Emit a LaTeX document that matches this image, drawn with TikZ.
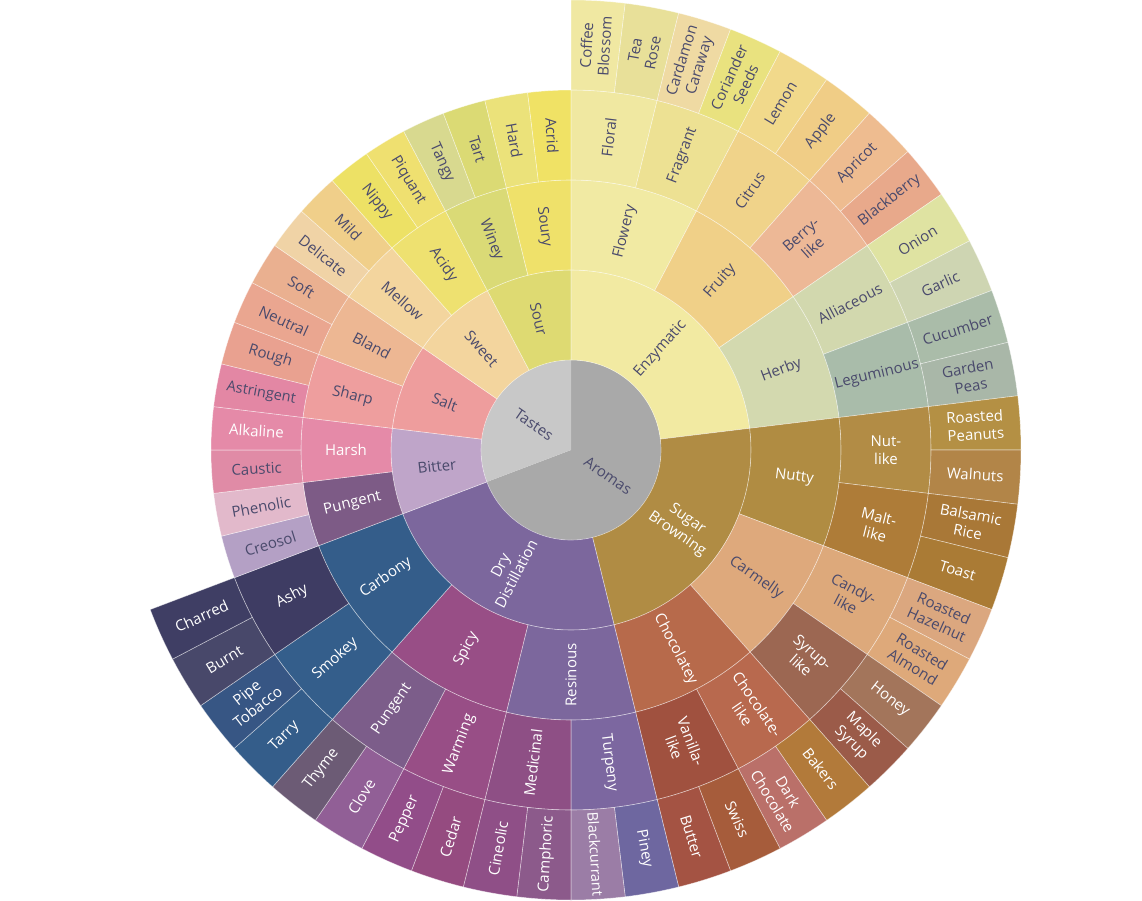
\documentclass[tikz,border=0pt]{standalone}
\usepackage{fontspec}
\setmainfont{Open Sans}
\usetikzlibrary{calc}
\definecolor{labeldark}{HTML}{4A4A6C}
\newcounter{segno}
\newcommand\leafw{6.923077}
% one sector of the wheel: first leaf, leaves, ring, fill, label style, label
\newcommand\seg[6]{%
  \pgfmathsetmacro\aA{90-#1*\leafw}%
  \pgfmathsetmacro\aB{90-(#1+#2)*\leafw}%
  \pgfmathsetmacro\rA{90*#3}%
  \pgfmathsetmacro\rB{90*(#3+1)}%
  \pgfmathsetmacro\aM{(\aA+\aB)/2}%
  \pgfmathsetmacro\rM{(\rA+\rB)/2}%
  \pgfmathsetmacro\rot{\aM<-89.99 ? \aM+180 : \aM}%
  \definecolor{segfill}{HTML}{#4}%
  \stepcounter{segno}%
  \fill[segfill, segline] (\aA:\rA) arc[start angle=\aA, end angle=\aB, radius=\rA]
    -- (\aB:\rB) arc[start angle=\aB, end angle=\aA, radius=\rB] -- cycle;
  \node[lbl, #5, rotate=\rot] (seg-\arabic{segno}) at (\aM:\rM) {#6};
}
% the two halves of the hub
\newcommand\hub[5]{%
  \pgfmathsetmacro\aA{90-#1*\leafw}%
  \pgfmathsetmacro\aB{90-(#1+#2)*\leafw}%
  \pgfmathsetmacro\aM{(\aA+\aB)/2}%
  \pgfmathsetmacro\rot{\aM<-89.99 ? \aM+180 : \aM}%
  \definecolor{segfill}{HTML}{#3}%
  \stepcounter{segno}%
  \fill[segfill] (0,0) -- (\aA:90) arc[start angle=\aA, end angle=\aB, radius=90] -- cycle;
  \node[lbl, #4, rotate=\rot] (seg-\arabic{segno}) at (\aM:45) {#5};
}

\begin{document}
\begin{tikzpicture}[
    x=1pt, y=1pt,
    lbl/.style={font=\fontsize{15}{18}\selectfont, align=center, inner sep=0pt},
    dk/.style={text=labeldark},
    lt/.style={text=white},
    sm/.style={font=\fontsize{14.5}{17}\selectfont},
    segline/.style={draw=white, draw opacity=0.5, line width=0.6pt}
]
  \useasboundingbox (-571,-450) rectangle (571,450);

  % hub
  \hub{0}{36}{A9A9A9}{dk}{Aromas}
  \hub{36}{16}{C8C8C8}{dk}{Tastes}

  % ring 1
  \seg{0}{12}{1}{F2EAA2}{dk}{Enzymatic}
  \seg{12}{12}{1}{B08C44}{lt}{Sugar\\Browning}
  \seg{24}{12}{1}{7C679D}{lt}{Dry\\Distillation}
  \seg{36}{4}{1}{BFA5C9}{dk}{Bitter}
  \seg{40}{4}{1}{EE9D9D}{dk}{Salt}
  \seg{44}{4}{1}{F3D59E}{dk}{Sweet}
  \seg{48}{4}{1}{DEDA72}{dk}{Sour}

  % ring 2
  \seg{0}{4}{2}{F1EAA3}{dk}{Flowery}
  \seg{4}{4}{2}{F0D088}{dk}{Fruity}
  \seg{8}{4}{2}{D3D9AF}{dk}{Herby}
  \seg{12}{4}{2}{B08C42}{lt}{Nutty}
  \seg{16}{4}{2}{DEA97C}{dk}{Carmelly}
  \seg{20}{4}{2}{B76A4B}{lt}{Chocolatey}
  \seg{24}{4}{2}{7C679D}{lt}{Resinous}
  \seg{28}{4}{2}{984E86}{lt}{Spicy}
  \seg{32}{4}{2}{345D8A}{lt}{Carbony}
  \seg{36}{2}{2}{7D5B86}{lt}{Pungent}
  \seg{38}{2}{2}{E58AA8}{lt}{Harsh}
  \seg{40}{2}{2}{EE9E9E}{dk}{Sharp}
  \seg{42}{2}{2}{EDB793}{dk}{Bland}
  \seg{44}{2}{2}{F3D59E}{dk}{Mellow}
  \seg{46}{2}{2}{EEE170}{dk}{Acidy}
  \seg{48}{2}{2}{DADA76}{dk}{Winey}
  \seg{50}{2}{2}{EFE16A}{dk}{Soury}

  % ring 3
  \seg{0}{2}{3}{F0E8A1}{dk}{Floral}
  \seg{2}{2}{3}{EDE193}{dk}{Fragrant}
  \seg{4}{2}{3}{F0D38A}{dk}{Citrus}
  \seg{6}{2}{3}{EDB896}{dk}{Berry-\\like}
  \seg{8}{2}{3}{D2D8AE}{dk}{Alliaceous}
  \seg{10}{2}{3}{A9BCAA}{dk}{Leguminous}
  \seg{12}{2}{3}{B28C45}{lt}{Nut-\\like}
  \seg{14}{2}{3}{AE7C38}{lt}{Malt-\\like}
  \seg{16}{2}{3}{DDA97B}{dk}{Candy-\\like}
  \seg{18}{2}{3}{9C6752}{lt}{Syrup-\\like}
  \seg{20}{2}{3}{B8694E}{lt}{Chocolate-\\like}
  \seg{22}{2}{3}{A0513F}{lt}{Vanilla-\\like}
  \seg{24}{2}{3}{7C67A0}{lt}{Turpeny}
  \seg{26}{2}{3}{8E4F85}{lt}{Medicinal}
  \seg{28}{2}{3}{984E86}{lt}{Warming}
  \seg{30}{2}{3}{7C5D8A}{lt}{Pungent}
  \seg{32}{2}{3}{345E8B}{lt}{Smokey}
  \seg{34}{2}{3}{3E3C63}{lt}{Ashy}
  \seg{36}{1}{3}{B4A0C5}{dk}{Creosol}
  \seg{37}{1}{3}{E2B9CB}{dk}{Phenolic}
  \seg{38}{1}{3}{E08BA6}{dk}{Caustic}
  \seg{39}{1}{3}{E58AA8}{lt}{Alkaline}
  \seg{40}{1}{3}{E387A4}{dk,sm}{Astringent}
  \seg{41}{1}{3}{E9A190}{dk}{Rough}
  \seg{42}{1}{3}{EAA690}{dk}{Neutral}
  \seg{43}{1}{3}{EAB090}{dk}{Soft}
  \seg{44}{1}{3}{F0D3A6}{dk}{Delicate}
  \seg{45}{1}{3}{F0CF8A}{dk}{Mild}
  \seg{46}{1}{3}{EDE165}{dk}{Nippy}
  \seg{47}{1}{3}{EFE070}{dk}{Piquant}
  \seg{48}{1}{3}{D8D98F}{dk}{Tangy}
  \seg{49}{1}{3}{DBDA74}{dk}{Tart}
  \seg{50}{1}{3}{EBE27A}{dk}{Hard}
  \seg{51}{1}{3}{F0E265}{dk}{Acrid}

  % ring 4
  \seg{0}{1}{4}{F0E8A2}{dk}{Coffee\\Blossom}
  \seg{1}{1}{4}{E8E099}{dk}{Tea\\Rose}
  \seg{2}{1}{4}{EFDAA3}{dk}{Cardamon\\Caraway}
  \seg{3}{1}{4}{E9E27F}{dk}{Coriander\\Seeds}
  \seg{4}{1}{4}{F1D98B}{dk}{Lemon}
  \seg{5}{1}{4}{F0CD86}{dk}{Apple}
  \seg{6}{1}{4}{EEBC90}{dk}{Apricot}
  \seg{7}{1}{4}{E8A98B}{dk}{Blackberry}
  \seg{8}{1}{4}{DFE3A2}{dk}{Onion}
  \seg{9}{1}{4}{CED5B2}{dk}{Garlic}
  \seg{10}{1}{4}{AABCA9}{dk}{Cucumber}
  \seg{11}{1}{4}{A9B7A8}{dk}{Garden\\Peas}
  \seg{12}{1}{4}{B49044}{lt}{Roasted\\Peanuts}
  \seg{13}{1}{4}{B28548}{lt}{Walnuts}
  \seg{14}{1}{4}{A97837}{lt}{Balsamic\\Rice}
  \seg{15}{1}{4}{AA7B35}{lt}{Toast}
  \seg{16}{1}{4}{DBA77F}{dk}{Roasted\\Hazelnut}
  \seg{17}{1}{4}{DEA97A}{dk}{Roasted\\Almond}
  \seg{18}{1}{4}{A3755B}{lt}{Honey}
  \seg{19}{1}{4}{9B5B49}{lt}{Maple\\Syrup}
  \seg{20}{1}{4}{B27A3A}{lt}{Bakers}
  \seg{21}{1}{4}{BA7069}{lt}{Dark\\Chocolate}
  \seg{22}{1}{4}{A65C3B}{lt}{Swiss}
  \seg{23}{1}{4}{A45343}{lt}{Butter}
  \seg{24}{1}{4}{6E67A0}{lt}{Piney}
  \seg{25}{1}{4}{9B7DA6}{lt,sm}{Blackcurrant}
  \seg{26}{1}{4}{8C5A8B}{lt}{Camphoric}
  \seg{27}{1}{4}{8F4F87}{lt}{Cineolic}
  \seg{28}{1}{4}{954B80}{lt}{Cedar}
  \seg{29}{1}{4}{924D89}{lt}{Pepper}
  \seg{30}{1}{4}{915F96}{lt}{Clove}
  \seg{31}{1}{4}{6C5B75}{lt}{Thyme}
  \seg{32}{1}{4}{345D8A}{lt}{Tarry}
  \seg{33}{1}{4}{375684}{lt}{Pipe\\Tobacco}
  \seg{34}{1}{4}{48486A}{lt}{Burnt}
  \seg{35}{1}{4}{3F3E64}{lt}{Charred}
\end{tikzpicture}
\end{document}
